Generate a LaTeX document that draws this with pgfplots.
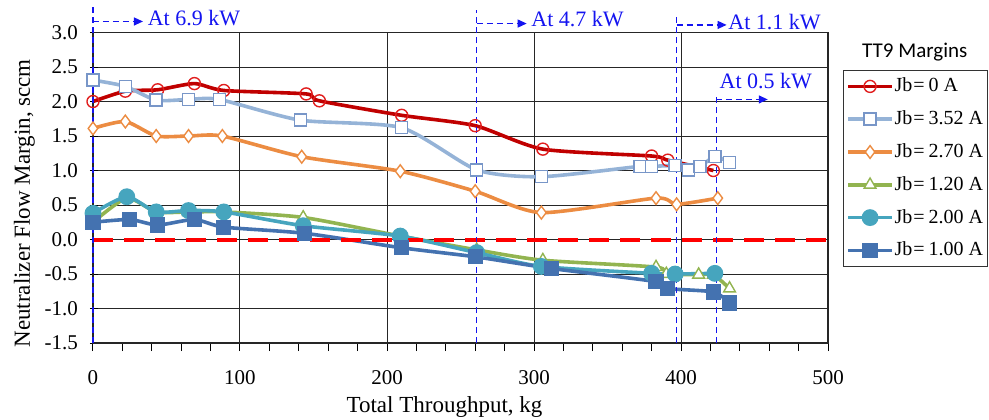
\documentclass[border=0pt]{standalone}
\usepackage{fontspec}
\setmainfont{Liberation Serif}
\newfontfamily\carlito{Carlito}
\usepackage{pgfplots}
\pgfplotsset{compat=1.18}
\usetikzlibrary{arrows.meta}

\definecolor{cRed}{RGB}{192,0,0}
\definecolor{cRedM}{RGB}{225,30,30}
\definecolor{cLBlue}{RGB}{149,179,215}
\definecolor{cLBlueM}{RGB}{120,150,200}
\definecolor{cOrange}{RGB}{236,140,66}
\definecolor{cGreen}{RGB}{146,180,80}
\definecolor{cTeal}{RGB}{70,165,190}
\definecolor{cDBlue}{RGB}{68,114,176}
\definecolor{annBlue}{RGB}{20,20,240}

\newcommand{\jb}[1]{Jb\kern0.5pt=\kern2pt#1 A}

\begin{document}
\begin{tikzpicture}
\begin{axis}[
    scale only axis,
    width=367.5pt, height=155.25pt,
    xmin=0, xmax=500,
    ymin=-1.5, ymax=3,
    xtick={0,100,...,500},
    minor x tick num=4,
    ytick={-1.5,-1,...,3},
    tick pos=left,
    tick align=outside,
    major tick length=4pt,
    minor tick length=4pt,
    y tick style={xshift=2.5pt},
    tick style={black, line width=0.5pt},
    grid=major,
    major grid style={black!85, line width=0.5pt},
    axis line style={black!85, line width=0.6pt},
    yticklabel style={/pgf/number format/.cd, fixed, fixed zerofill, precision=1},
    /pgf/number format/assume math mode=true,
    ticklabel style={font=\fontsize{10.5}{12}\selectfont},
    xticklabel style={yshift=-6pt},
    xlabel={Total Throughput, kg},
    ylabel={Neutralizer Flow Margin, sccm},
    label style={font=\fontsize{11.5}{13}\selectfont},
    xlabel style={xshift=-8pt, yshift=0.8pt},
    ylabel style={at={(ticklabel cs:0.45)}, yshift=-2pt},
    clip=false,
    legend cell align=left,
    legend image code/.code={
        \draw[mark repeat=2,mark phase=2] plot coordinates {(0cm,0cm) (0.38cm,0cm) (0.76cm,0cm)};
    },
    legend style={
        at={(rel axis cs:1.0204,0.879)}, anchor=north west,
        draw=black!80, line width=0.6pt, fill=white,
        font=\fontsize{10}{12}\selectfont,
        inner xsep=1.5pt, inner ysep=2pt, row sep=4.7pt,
        nodes={inner sep=0.6pt, text height=8pt, text depth=2.5pt},
    },
    every axis plot/.append style={smooth, tension=0.4},
]

\addplot[cRed, line width=1.8pt, mark=o, mark size=3pt,
    mark options={solid, fill=white, draw=cRedM, line width=0.7pt}] coordinates {
    (0,2.00) (22,2.15) (44,2.17) (69,2.26) (89,2.16) (145,2.11) (154,2.01)
    (210,1.80) (260,1.65) (306,1.31) (380,1.21) (391,1.15) (422,1.00)
};
\addlegendentry{\jb{0}}

\addplot[cLBlue, line width=1.8pt, mark=square*, mark size=3pt,
    mark options={solid, fill=white, draw=cLBlueM, line width=0.7pt}] coordinates {
    (0,2.31) (22,2.22) (43,2.02) (65,2.03) (86,2.03) (141,1.73) (210,1.62)
    (261,1.01) (305,0.91) (372,1.06) (380,1.06) (396,1.07) (405,1.01)
    (413,1.06) (423,1.20) (433,1.12)
};
\addlegendentry{\jb{3.52}}

\addplot[cOrange, line width=1.8pt, mark=diamond*, mark size=3.2pt,
    mark options={solid, fill=white, draw=cOrange, line width=0.7pt}] coordinates {
    (0,1.61) (22,1.71) (43,1.50) (65,1.50) (88,1.50) (142,1.20) (209,0.99)
    (260,0.70) (305,0.39) (383,0.60) (397,0.51) (425,0.60)
};
\addlegendentry{\jb{2.70}}

\addplot[cGreen, line width=1.8pt, mark=triangle*, mark size=3.4pt,
    mark options={solid, fill=white, draw=cGreen, line width=0.7pt}] coordinates {
    (0,0.25) (23,0.60) (43,0.40) (65,0.40) (89,0.40) (143,0.32) (209,0.05)
    (261,-0.15) (306,-0.30) (383,-0.40) (390,-0.50) (412,-0.51) (422,-0.51)
    (433,-0.71)
};
\addlegendentry{\jb{1.20}}

\addplot[cTeal, line width=1.8pt, mark=*, mark size=3.3pt,
    mark options={solid, fill=cTeal, draw=cTeal}] coordinates {
    (0,0.38) (23,0.62) (43,0.40) (65,0.42) (89,0.40) (143,0.20) (209,0.05)
    (261,-0.19) (305,-0.39) (380,-0.49) (396,-0.50) (423,-0.49)
};
\addlegendentry{\jb{2.00}}

\addplot[cDBlue, line width=1.8pt, mark=square*, mark size=2.9pt,
    mark options={solid, fill=cDBlue, draw=cDBlue}] coordinates {
    (0,0.25) (25,0.29) (44,0.21) (69,0.29) (89,0.18) (144,0.09) (210,-0.12)
    (260,-0.25) (312,-0.42) (383,-0.61) (391,-0.71) (422,-0.76) (433,-0.92)
};
\addlegendentry{\jb{1.00}}

% zero margin line
\addplot[red, line width=2pt, dash pattern=on 10pt off 5.5pt, sharp plot, forget plot]
    coordinates {(0,0) (500,0)};

% throttling points
\addplot[annBlue, line width=0.6pt, dash pattern=on 3pt off 2pt, sharp plot, forget plot]
    coordinates {(0,-1.5) (0,3.37)};
\addplot[annBlue, line width=0.6pt, dash pattern=on 3pt off 2pt, sharp plot, forget plot]
    coordinates {(261,-1.5) (261,3.33)};
\addplot[annBlue, line width=0.6pt, dash pattern=on 3pt off 2pt, sharp plot, forget plot]
    coordinates {(397,-1.5) (397,3.28)};
\addplot[annBlue, line width=0.6pt, dash pattern=on 3pt off 2pt, sharp plot, forget plot]
    coordinates {(424,-1.5) (424,2.09)};

\addplot[annBlue, line width=0.6pt, dash pattern=on 3pt off 2pt, sharp plot, forget plot,
    -{Triangle[length=4.5pt,width=4pt]}] coordinates {(0,3.16) (34,3.16)};
\addplot[annBlue, line width=0.6pt, dash pattern=on 3pt off 2pt, sharp plot, forget plot,
    -{Triangle[length=4.5pt,width=4pt]}] coordinates {(261,3.13) (295,3.13)};
\addplot[annBlue, line width=0.6pt, dash pattern=on 3pt off 2pt, sharp plot, forget plot,
    -{Triangle[length=4.5pt,width=4pt]}] coordinates {(397,3.11) (431,3.11)};
\addplot[annBlue, line width=0.6pt, dash pattern=on 3pt off 2pt, sharp plot, forget plot,
    -{Triangle[length=4.5pt,width=4pt]}] coordinates {(424,2.03) (459,2.03)};

\node[annBlue, anchor=base west, inner sep=0pt, font=\fontsize{11}{13}\selectfont] at (axis cs:37,3.10) {At 6.9 kW};
\node[annBlue, anchor=base west, inner sep=0pt, font=\fontsize{11}{13}\selectfont] at (axis cs:298,3.08) {At 4.7 kW};
\node[annBlue, anchor=base west, inner sep=0pt, font=\fontsize{11}{13}\selectfont] at (axis cs:432,3.05) {At 1.1 kW};
\node[annBlue, anchor=base west, inner sep=0pt, font=\fontsize{11}{13}\selectfont] at (axis cs:426,2.19) {At 0.5 kW};

\node[font=\carlito\fontsize{10.5}{12}\selectfont] at (rel axis cs:1.118,0.937) {TT9 Margins};

\coordinate (bbsw) at (rel axis cs:-0.1265,-0.2448);
\coordinate (bbne) at (rel axis cs:1.219,1.1047);
\end{axis}
\pgfresetboundingbox
\path[use as bounding box] (bbsw) rectangle (bbne);
\end{tikzpicture}
\end{document}
